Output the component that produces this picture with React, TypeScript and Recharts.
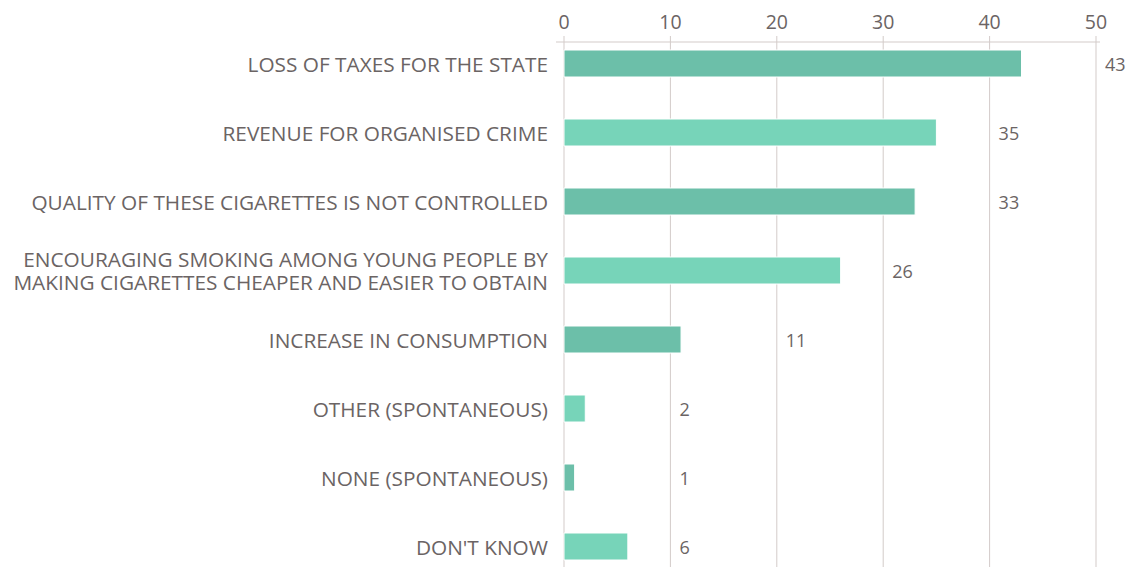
import React from "react";
import { BarChart, Bar, XAxis, YAxis, CartesianGrid, Cell, LabelList } from "recharts";

const categories = [
  "LOSS OF TAXES FOR THE STATE",
  "REVENUE FOR ORGANISED CRIME",
  "QUALITY OF THESE CIGARETTES IS NOT CONTROLLED",
  "ENCOURAGING SMOKING AMONG YOUNG PEOPLE BY\nMAKING CIGARETTES CHEAPER AND EASIER TO OBTAIN",
  "INCREASE IN CONSUMPTION",
  "OTHER (SPONTANEOUS)",
  "NONE (SPONTANEOUS)",
  "DON'T KNOW",
];
const values = [43, 35, 33, 26, 11, 2, 1, 6];
const xTicks = [0, 10, 20, 30, 40, 50];
const barColors = ["#6cbfa9", "#77d4b9"];

const data = categories.map((name, i) => ({ name, value: values[i] }));

const FONT = "'Open Sans', 'Noto Sans', sans-serif";
const TEXT = "#6b6464";
const GRID = "#d3cbc9";

const CatTick = (props: any) => {
  const { x, y, payload } = props;
  const lines = String(payload.value).split("\n");
  const lh = 23;
  const start = -((lines.length - 1) * lh) / 2;
  return (
    <g>
      {lines.map((l, i) => (
        <text
          key={i}
          x={x}
          y={y + start + i * lh}
          textAnchor="end"
          fill={TEXT}
          fontFamily={FONT}
          fontSize={20.8}
          dominantBaseline="central"
        >
          {l}
        </text>
      ))}
    </g>
  );
};

const ValueLabel = (props: any) => {
  const { x, y, width, height, value } = props;
  const perUnit = width / value;
  const step = Math.ceil(value / 10) * 10;
  const lx = x + perUnit * step + 9;
  return (
    <text x={lx} y={y + height / 2} fill={TEXT} fontFamily={FONT} fontSize={18} dominantBaseline="central" textAnchor="start">
      {value}
    </text>
  );
};

const gridX = (p: any) => {
  const s = p?.xAxis?.scale;
  if (s) {
    const f = typeof s === "function" ? s : s.map ? (v: number) => s.map(v) : null;
    if (f) return xTicks.map((t) => f(t));
  }
  return [];
};

export default function App() {
  return (
    <div style={{ position: "absolute", left: 0, top: 0, background: "#fff" }}>
      <BarChart
        width={1131}
        height={567}
        data={data}
        layout="vertical"
        margin={{ top: 12, right: 31, bottom: 0, left: 0 }}
      >
        <CartesianGrid
          horizontal={false}
          vertical={true}
          stroke={GRID}
          strokeWidth={1}
          verticalCoordinatesGenerator={gridX}
        />
        <XAxis
          type="number"
          orientation="top"
          domain={[0, 50]}
          ticks={xTicks}
          interval={0}
          height={30}
          padding={{ left: 8, right: 4 }}
          axisLine={{ stroke: GRID }}
          tickLine={{ stroke: GRID }}
          tickSize={6}
          tickMargin={7}
          tick={{ fill: TEXT, fontFamily: FONT, fontSize: 19.5 }}
        />
        <YAxis
          type="category"
          dataKey="name"
          width={556}
          axisLine={false}
          tickLine={false}
          tickSize={0}
          tickMargin={8}
          interval={0}
          padding={{ top: -13, bottom: -14 }}
          tick={<CatTick />}
        />
        <Bar dataKey="value" barSize={27} isAnimationActive={false} stroke="#ffffff" strokeWidth={1}>
          {data.map((d, i) => (
            <Cell key={d.name} fill={barColors[i % 2]} />
          ))}
          <LabelList dataKey="value" content={<ValueLabel />} />
        </Bar>
      </BarChart>
    </div>
  );
}
